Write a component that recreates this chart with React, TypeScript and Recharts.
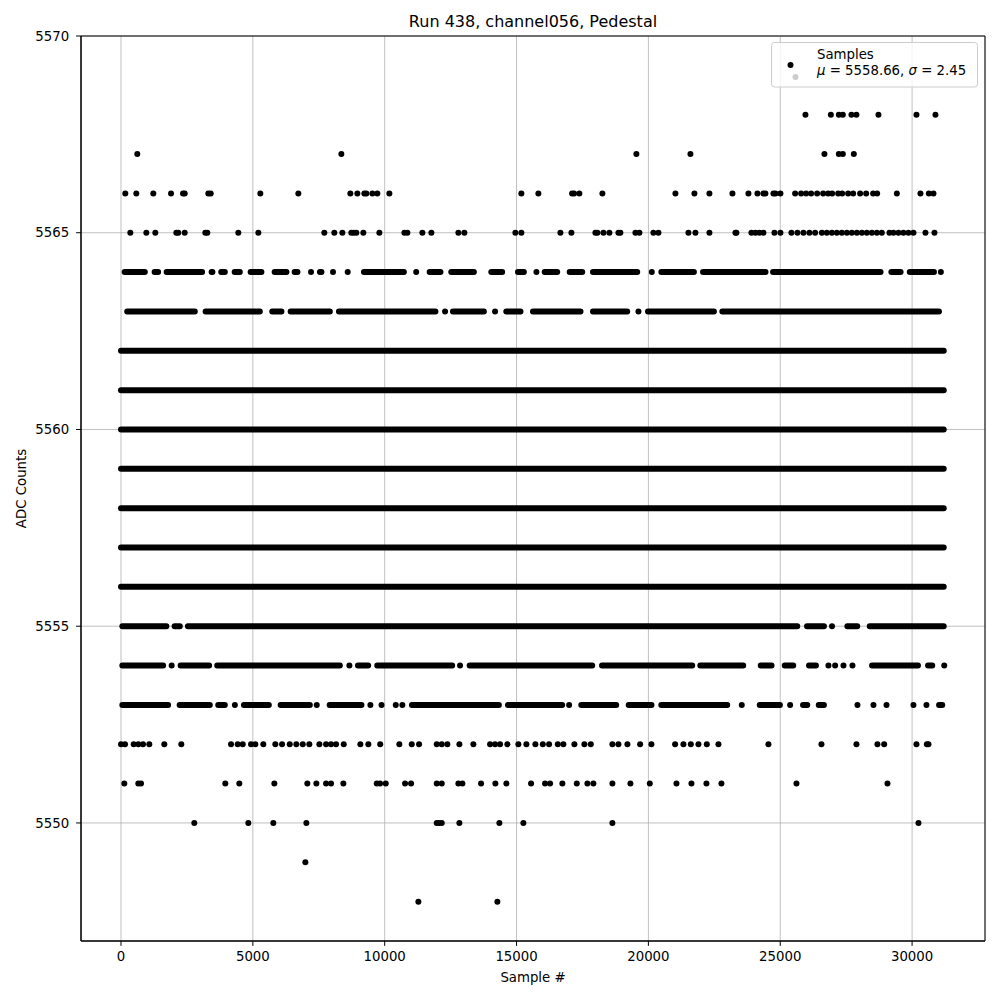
import React from 'react';
import { ComposedChart, Line, Scatter, XAxis, YAxis, CartesianGrid, ReferenceArea } from 'recharts';

const xTicks = [0, 5000, 10000, 15000, 20000, 25000, 30000];
const yTicks = [5550, 5555, 5560, 5565, 5570];
const xDomain = [-1517, 32765];
const yDomain = [5547, 5570];

const fullRow = [[0, 31200]];
const denseLevels = [5556, 5557, 5558, 5559, 5560, 5561, 5562];

const seg5564 = [[137, 903], [1274, 1407], [1730, 3076], [3436, 3467], [3801, 3937], [4309, 4506], [4916, 5325], [5826, 6274], [6585, 6691], [7544, 7601], [9213, 10727], [11705, 12115], [12524, 13382], [14042, 14455], [15054, 15278], [16067, 16541], [17015, 17490], [17899, 19576], [20490, 21726], [22071, 24442], [24727, 28804], [29214, 29563], [29912, 30830]];
const pts5564 = [7206, 8040, 8597, 11195, 15754, 20129, 31091];

const seg5563 = [[235, 2799], [3209, 5265], [5735, 6084], [6433, 7920], [8265, 11925], [12589, 13761], [14611, 15149], [15623, 17425], [17899, 19196], [19985, 22485], [22803, 31019]];
const pts5563 = [12289, 14186, 19623];

const seg5555 = [[50, 1720], [2033, 2230], [2538, 25644], [26016, 26657], [27545, 27920], [28394, 31200]];
const pts5555 = [26963];

const seg5554 = [[50, 1597], [2261, 3342], [3649, 8299], [8986, 9373], [9718, 12559], [13222, 17869], [18241, 21662], [21969, 23596], [24260, 24670], [25170, 25493], [26092, 26354], [28482, 30223], [30606, 30765]];
const pts5554 = [1921, 8661, 12858, 26828, 27082, 27398, 27739, 31220];

const seg5553 = [[50, 1787], [2223, 3368], [3687, 3937], [4662, 5606], [6054, 7161], [7912, 9118], [11034, 14330], [14675, 16731], [17455, 18779], [19253, 20118], [20490, 22989], [24222, 24988], [25864, 26024], [26460, 26657], [31023, 31144]];
const pts5553 = [4318, 7423, 9458, 9880, 10420, 10670, 16993, 23541, 25375, 27928, 28535, 29030, 30052, 30545];

const pts5568 = [25956, 26919, 27222, 27374, 27700, 27890, 28724, 30166, 30886];
const pts5567 = [618, 8356, 19545, 21594, 26676, 27222, 27374, 27791];
const pts5566 = [163, 580, 1225, 1897, 2352, 2416, 3311, 3402, 5284, 6725, 8697, 8963, 9228, 9304, 9532, 9721, 10177, 15183, 15828, 17106, 17182, 17383, 18256, 21025, 21745, 22314, 23187, 23794, 24135, 24362, 24438, 24742, 24818, 25007, 25565, 25792, 25982, 26172, 26399, 26627, 26817, 26968, 27196, 27348, 27575, 27765, 28030, 28258, 28523, 28675, 29422, 30317, 30636, 30811];
const pts5565 = [353, 960, 1301, 2098, 2173, 2416, 3198, 3273, 4449, 5208, 7711, 8090, 8394, 8735, 8826, 8925, 9190, 9797, 10746, 10859, 11428, 11770, 12794, 13021, 14956, 15183, 16663, 17080, 17990, 18066, 18294, 18521, 18863, 18938, 19508, 19659, 20190, 20380, 21518, 21783, 22314, 23300, 23338, 23907, 24059, 24211, 24362, 24780, 25007, 25424, 25652, 25880, 26107, 26323, 26578, 26767, 26957, 27146, 27336, 27526, 27715, 27905, 28095, 28284, 28474, 28664, 28853, 29142, 29293, 29483, 29673, 29862, 30052, 30507, 30849];
const pts5552 = [0, 152, 482, 656, 834, 1073, 1642, 2287, 4172, 4426, 4616, 4931, 5094, 5397, 5853, 6107, 6399, 6649, 6892, 7142, 7522, 7776, 7965, 8155, 8447, 9077, 9380, 9830, 10556, 11026, 11303, 11974, 12164, 12377, 12832, 13363, 13996, 14186, 14375, 14652, 15069, 15373, 15714, 15995, 16234, 16564, 16776, 17194, 17573, 17816, 18635, 18863, 19204, 19686, 20114, 21013, 21328, 21609, 21897, 22215, 22656, 24552, 26563, 27890, 28686, 28941, 30166, 30560, 30621];
const pts5551 = [125, 656, 759, 3956, 4487, 5815, 7066, 7408, 7776, 7965, 8432, 9699, 9824, 10040, 10772, 11000, 11974, 12164, 12794, 12946, 13655, 14197, 14614, 15551, 16082, 16272, 16738, 17284, 17687, 17914, 18635, 19318, 20053, 21063, 21632, 22201, 22769, 25614, 29066];
const pts5550 = [2780, 4829, 5777, 7029, 11974, 12062, 12164, 12832, 14349, 15259, 18635, 30242];
const pts5549 = [6991];
const pts5548 = [11277, 14273];

const segRows: { y: number; segs: number[][] }[] = [
  ...denseLevels.map((y) => ({ y, segs: fullRow })),
  { y: 5564, segs: seg5564 },
  { y: 5563, segs: seg5563 },
  { y: 5555, segs: seg5555 },
  { y: 5554, segs: seg5554 },
  { y: 5553, segs: seg5553 },
];

const pointRows: { y: number; xs: number[] }[] = [
  { y: 5568, xs: pts5568 },
  { y: 5567, xs: pts5567 },
  { y: 5566, xs: pts5566 },
  { y: 5565, xs: pts5565 },
  { y: 5564, xs: pts5564 },
  { y: 5563, xs: pts5563 },
  { y: 5555, xs: pts5555 },
  { y: 5554, xs: pts5554 },
  { y: 5553, xs: pts5553 },
  { y: 5552, xs: pts5552 },
  { y: 5551, xs: pts5551 },
  { y: 5550, xs: pts5550 },
  { y: 5549, xs: pts5549 },
  { y: 5548, xs: pts5548 },
];

const toLineData = (y: number, segs: number[][]) => {
  const out: { x: number; y: number | null }[] = [];
  segs.forEach(([a, b], i) => {
    if (i > 0) out.push({ x: (segs[i - 1][1] + a) / 2, y: null });
    out.push({ x: a, y }, { x: b, y });
  });
  return out;
};

const scatterData = pointRows.flatMap((r) => r.xs.map((x) => ({ x, y: r.y })));

const Dot = (p: any) => <circle cx={p.cx} cy={p.cy} r={3} fill="#000" />;

const FONT = 'DejaVu Sans';
const tickStyle = { fill: '#000', fontSize: 13.3, fontFamily: FONT };

export default function App() {
  return (
    <div style={{ position: 'absolute', left: 0, top: 0, width: 1000, height: 1000, background: '#fff' }}>
      <ComposedChart width={1000} height={1000} margin={{ top: 36, right: 15, bottom: 0, left: 0 }}>
        <CartesianGrid stroke="#b0b0b0" strokeWidth={0.8} />
        <XAxis
          dataKey="x"
          type="number"
          domain={xDomain}
          allowDataOverflow
          ticks={xTicks}
          height={59}
          tick={tickStyle}
          tickSize={4.9}
          tickMargin={5.5}
          tickLine={{ stroke: '#000' }}
          axisLine={{ stroke: '#000' }}
        />
        <YAxis
          dataKey="y"
          type="number"
          domain={yDomain}
          allowDataOverflow
          ticks={yTicks}
          width={81}
          tick={tickStyle}
          tickSize={4.9}
          tickMargin={7}
          tickLine={{ stroke: '#000' }}
          axisLine={{ stroke: '#000' }}
        />
        {segRows.map((r, i) => (
          <Line
            key={'l' + i}
            data={toLineData(r.y, r.segs)}
            dataKey="y"
            stroke="#000"
            strokeWidth={6}
            strokeLinecap="round"
            dot={false}
            activeDot={false}
            connectNulls={false}
            isAnimationActive={false}
            legendType="none"
          />
        ))}
        <Scatter data={scatterData} dataKey="y" fill="#000" shape={Dot} isAnimationActive={false} legendType="none" />
        <ReferenceArea x1={xDomain[0]} x2={xDomain[1]} y1={yDomain[0]} y2={yDomain[1]} fill="none" fillOpacity={0} stroke="#000" strokeWidth={1} />
      </ComposedChart>
      <svg width={1000} height={1000} style={{ position: 'absolute', left: 0, top: 0, pointerEvents: 'none' }}>
        <text x={533} y={27} textAnchor="middle" fontFamily={FONT} fontSize={16} fill="#000">
          Run 438, channel056, Pedestal
        </text>
        <text x={533} y={982} textAnchor="middle" fontFamily={FONT} fontSize={13.3} fill="#000">
          Sample #
        </text>
        <text transform="translate(26 488.5) rotate(-90)" textAnchor="middle" fontFamily={FONT} fontSize={13.3} fill="#000">
          ADC Counts
        </text>
        <rect x={771.5} y={42.5} width={206} height={44.5} rx={3} fill="#fff" fillOpacity={0.8} stroke="#cccccc" />
        <circle cx={790.5} cy={65} r={3} fill="#000" />
        <circle cx={795.5} cy={77} r={3} fill="#cccccc" />
        <text x={817} y={59} fontFamily={FONT} fontSize={13.3} fill="#000">Samples</text>
        <text x={817} y={75} fontFamily={FONT} fontSize={13.3} fill="#000">
          <tspan fontStyle="italic">μ</tspan> = 5558.66, <tspan fontStyle="italic">σ</tspan> = 2.45
        </text>
      </svg>
    </div>
  );
}
